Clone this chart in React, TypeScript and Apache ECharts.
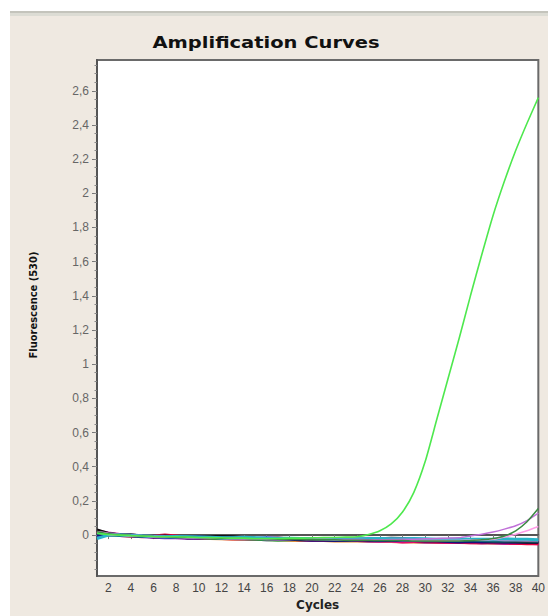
import React, { useEffect, useRef } from "react";
import * as echarts from "echarts";

const cycles = [1,2,3,4,5,6,7,8,9,10,11,12,13,14,15,16,17,18,19,20,21,22,23,24,25,26,27,28,29,30,31,32,33,34,35,36,37,38,39,40];
const xTickLabels = [2,4,6,8,10,12,14,16,18,20,22,24,26,28,30,32,34,36,38,40];
const yTickLabels = [0,0.2,0.4,0.6,0.8,1,1.2,1.4,1.6,1.8,2,2.2,2.4,2.6];

const greenAmp = [0.01,0.003,0.0,-0.003,-0.005,-0.008,-0.01,-0.01,-0.012,-0.014,-0.015,-0.016,-0.018,-0.018,-0.02,-0.02,-0.02,-0.018,-0.018,-0.016,-0.015,-0.014,-0.012,-0.01,0.003,0.025,0.065,0.135,0.25,0.43,0.67,0.91,1.15,1.40,1.64,1.87,2.07,2.25,2.41,2.56];
const darkGreenRise = [0.02,0.008,0.002,-0.002,-0.005,-0.008,-0.01,-0.012,-0.014,-0.015,-0.016,-0.018,-0.02,-0.02,-0.022,-0.022,-0.024,-0.025,-0.026,-0.026,-0.028,-0.028,-0.03,-0.03,-0.03,-0.032,-0.032,-0.032,-0.034,-0.034,-0.034,-0.035,-0.034,-0.032,-0.028,-0.02,-0.005,0.025,0.078,0.155];
const violetRise = [0.015,0.006,0.0,-0.003,-0.006,-0.009,-0.011,-0.013,-0.015,-0.016,-0.017,-0.018,-0.02,-0.021,-0.022,-0.022,-0.023,-0.024,-0.024,-0.025,-0.025,-0.026,-0.026,-0.026,-0.027,-0.027,-0.026,-0.025,-0.024,-0.022,-0.02,-0.018,-0.015,-0.005,0.005,0.018,0.035,0.055,0.085,0.128];
const pinkRise = [0.012,0.004,-0.001,-0.004,-0.007,-0.01,-0.012,-0.014,-0.015,-0.016,-0.018,-0.019,-0.02,-0.021,-0.022,-0.023,-0.024,-0.024,-0.025,-0.026,-0.026,-0.027,-0.028,-0.028,-0.029,-0.03,-0.03,-0.031,-0.031,-0.032,-0.032,-0.032,-0.031,-0.03,-0.028,-0.025,-0.012,0.005,0.025,0.05];

const blackBase = [0.03,0.01,0.0,0.0,-0.005,-0.01,-0.005,-0.01,-0.015,-0.012,-0.01,-0.008,-0.01,-0.015,-0.018,-0.02,-0.018,-0.02,-0.022,-0.025,-0.025,-0.022,-0.02,-0.022,-0.025,-0.022,-0.018,-0.02,-0.025,-0.028,-0.03,-0.03,-0.028,-0.03,-0.032,-0.035,-0.035,-0.038,-0.04,-0.04];
const redBase = [0.02,0.005,-0.002,-0.005,-0.01,-0.005,0.0,-0.005,-0.012,-0.015,-0.015,-0.018,-0.02,-0.02,-0.022,-0.02,-0.018,-0.022,-0.025,-0.028,-0.03,-0.03,-0.028,-0.03,-0.032,-0.03,-0.032,-0.035,-0.035,-0.038,-0.04,-0.04,-0.042,-0.04,-0.042,-0.045,-0.045,-0.048,-0.05,-0.05];
const navyBase = [0.0,0.005,0.002,-0.003,-0.008,-0.01,-0.01,-0.012,-0.015,-0.015,-0.012,-0.01,-0.012,-0.015,-0.02,-0.022,-0.025,-0.025,-0.028,-0.03,-0.03,-0.032,-0.03,-0.028,-0.03,-0.032,-0.03,-0.03,-0.032,-0.035,-0.035,-0.038,-0.04,-0.038,-0.04,-0.04,-0.042,-0.042,-0.04,-0.042];
const cyanBase = [-0.02,0.0,0.0,-0.002,-0.005,-0.008,-0.01,-0.008,-0.01,-0.012,-0.012,-0.015,-0.015,-0.012,-0.015,-0.018,-0.02,-0.018,-0.02,-0.02,-0.02,-0.022,-0.025,-0.022,-0.02,-0.02,-0.022,-0.022,-0.02,-0.022,-0.025,-0.025,-0.022,-0.025,-0.025,-0.025,-0.022,-0.025,-0.025,-0.028];
const magentaBase = [0.025,0.012,0.004,0.0,-0.005,-0.01,-0.012,-0.01,-0.012,-0.015,-0.018,-0.02,-0.022,-0.02,-0.022,-0.025,-0.025,-0.022,-0.025,-0.03,-0.032,-0.03,-0.028,-0.03,-0.032,-0.035,-0.035,-0.04,-0.038,-0.035,-0.038,-0.04,-0.042,-0.045,-0.045,-0.042,-0.045,-0.048,-0.048,-0.05];
const purpleBase = [0.01,0.002,-0.002,-0.005,-0.008,-0.012,-0.015,-0.015,-0.018,-0.02,-0.02,-0.018,-0.02,-0.022,-0.025,-0.028,-0.025,-0.025,-0.028,-0.03,-0.028,-0.028,-0.03,-0.032,-0.035,-0.035,-0.032,-0.035,-0.038,-0.04,-0.04,-0.042,-0.04,-0.042,-0.045,-0.045,-0.048,-0.045,-0.048,-0.048];
const tealBase = [0.015,0.008,0.002,0.0,-0.004,-0.006,-0.008,-0.01,-0.01,-0.012,-0.014,-0.016,-0.015,-0.018,-0.02,-0.02,-0.022,-0.02,-0.02,-0.022,-0.024,-0.026,-0.025,-0.024,-0.026,-0.028,-0.025,-0.026,-0.028,-0.03,-0.03,-0.032,-0.03,-0.03,-0.032,-0.034,-0.035,-0.034,-0.035,-0.036];
const blueBase = [-0.01,0.003,0.0,-0.003,-0.006,-0.008,-0.012,-0.014,-0.012,-0.01,-0.012,-0.016,-0.018,-0.02,-0.018,-0.016,-0.018,-0.022,-0.024,-0.022,-0.02,-0.022,-0.026,-0.028,-0.026,-0.024,-0.026,-0.03,-0.032,-0.03,-0.028,-0.03,-0.034,-0.036,-0.034,-0.032,-0.035,-0.038,-0.036,-0.035];
const lightPinkBase = [0.02,0.01,0.003,0.0,-0.003,-0.005,-0.008,-0.01,-0.012,-0.014,-0.016,-0.018,-0.02,-0.02,-0.022,-0.024,-0.026,-0.025,-0.022,-0.02,-0.02,-0.018,-0.016,-0.015,-0.016,-0.018,-0.02,-0.02,-0.022,-0.024,-0.025,-0.026,-0.025,-0.026,-0.028,-0.028,-0.03,-0.03,-0.032,-0.032];
const greenBase = [0.005,0.0,-0.002,-0.004,-0.006,-0.008,-0.01,-0.012,-0.014,-0.016,-0.018,-0.02,-0.02,-0.022,-0.025,-0.028,-0.03,-0.028,-0.025,-0.024,-0.026,-0.028,-0.03,-0.028,-0.026,-0.028,-0.03,-0.032,-0.03,-0.028,-0.03,-0.032,-0.034,-0.032,-0.03,-0.032,-0.034,-0.036,-0.035,-0.034];
const orangeBase = [0.0,0.002,-0.001,-0.004,-0.007,-0.01,-0.012,-0.014,-0.016,-0.018,-0.02,-0.022,-0.024,-0.025,-0.024,-0.026,-0.028,-0.03,-0.032,-0.03,-0.032,-0.034,-0.035,-0.034,-0.036,-0.038,-0.038,-0.04,-0.04,-0.042,-0.042,-0.044,-0.044,-0.045,-0.046,-0.046,-0.047,-0.048,-0.048,-0.048];

const seriesDefs: { name: string; values: number[]; color: string; width: number; smooth: number }[] = [
  { name: "orange", values: orangeBase, color: "#e07a20", width: 3, smooth: 0 },
  { name: "purple", values: purpleBase, color: "#8a10c0", width: 3, smooth: 0 },
  { name: "magenta", values: magentaBase, color: "#e0109a", width: 3, smooth: 0 },
  { name: "red", values: redBase, color: "#e8003c", width: 3, smooth: 0 },
  { name: "greenBase", values: greenBase, color: "#30a040", width: 3, smooth: 0 },
  { name: "blue", values: blueBase, color: "#3050d8", width: 3, smooth: 0 },
  { name: "navy", values: navyBase, color: "#14147a", width: 3, smooth: 0 },
  { name: "black", values: blackBase, color: "#101010", width: 3, smooth: 0 },
  { name: "teal", values: tealBase, color: "#1a6a7a", width: 3, smooth: 0 },
  { name: "lightPink", values: lightPinkBase, color: "#f080d0", width: 2, smooth: 0 },
  { name: "cyan", values: cyanBase, color: "#28b4c8", width: 3, smooth: 0 },
  { name: "pinkRise", values: pinkRise, color: "#ff9ce8", width: 1.5, smooth: 0.2 },
  { name: "violetRise", values: violetRise, color: "#c070d8", width: 1.5, smooth: 0.2 },
  { name: "darkGreenRise", values: darkGreenRise, color: "#3c8a44", width: 1.5, smooth: 0.2 },
  { name: "amplified", values: greenAmp, color: "#4ee84e", width: 1.6, smooth: 0.2 },
];

const minorTicks: number[] = [];
for (let i = -4; i <= 55; i++) minorTicks.push(Math.round(i * 5) / 100);

const fmt = (v: number) => String(Math.round(v * 10) / 10).replace(".", ",");

export default function App() {
  const ref = useRef<HTMLDivElement>(null);
  useEffect(() => {
    if (!ref.current) return;
    const chart = echarts.init(ref.current, undefined, { renderer: "svg" });
    chart.setOption({
      animation: false,
      backgroundColor: "#ffffff",
      graphic: [
        { type: "rect", z: -10, shape: { x: 10, y: 11, width: 538, height: 2 }, style: { fill: "#c4c4bc" } },
        { type: "rect", z: -10, shape: { x: 10, y: 13, width: 538, height: 3 }, style: { fill: "#dcdcd4" } },
        { type: "rect", z: -10, shape: { x: 10, y: 16, width: 538, height: 600 }, style: { fill: "#efe9e1" } },
        {
          type: "text",
          x: 266,
          y: 43,
          scaleX: 1.3,
          style: {
            text: "Amplification Curves",
            font: "bold 15px 'DejaVu Sans'",
            fill: "#111111",
            align: "center",
            verticalAlign: "middle",
          },
        },
        {
          type: "text",
          x: 33,
          y: 305,
          rotation: Math.PI / 2,
          style: {
            text: "Fluorescence (530)",
            font: "bold 11px 'DejaVu Sans Condensed'",
            fill: "#111111",
            align: "center",
            verticalAlign: "middle",
          },
        },
      ],
      grid: {
        left: 97,
        right: 8,
        top: 60,
        bottom: 29,
        show: true,
        backgroundColor: "#ffffff",
        borderColor: "#6a6a6a",
        borderWidth: 2,
      },
      xAxis: {
        type: "value",
        min: 1,
        max: 40,
        name: "Cycles",
        nameLocation: "middle",
        nameGap: 19,
        nameTextStyle: { fontFamily: "DejaVu Sans", fontWeight: "bold", fontSize: 12, color: "#222" },
        axisLine: { show: true, lineStyle: { color: "#555", width: 2 } },
        axisTick: { show: true, length: 4, lineStyle: { color: "#777" }, customValues: xTickLabels },
        axisLabel: {
          customValues: xTickLabels,
          fontFamily: "Liberation Sans",
          fontSize: 12,
          color: "#444",
          margin: 6,
        },
        splitLine: { show: false },
      },
      yAxis: [
        {
          type: "value",
          min: -0.24,
          max: 2.78,
          axisLine: { show: true, lineStyle: { color: "#555", width: 2 } },
          axisTick: { show: true, length: 5, lineStyle: { color: "#777" }, customValues: yTickLabels },
          axisLabel: {
            customValues: yTickLabels,
            formatter: (v: number) => fmt(v),
            fontFamily: "Liberation Sans",
            fontSize: 12,
            color: "#666",
            margin: 8,
          },
          splitLine: { show: false },
        },
        {
          type: "value",
          min: -0.24,
          max: 2.78,
          position: "left",
          axisLine: { show: false },
          axisTick: { show: true, length: 2.5, lineStyle: { color: "#888" }, customValues: minorTicks },
          axisLabel: { show: false },
          splitLine: { show: false },
        },
      ],
      series: seriesDefs.map((s) => ({
        type: "line",
        name: s.name,
        yAxisIndex: 0,
        data: cycles.map((c, i) => [c, s.values[i]]),
        showSymbol: false,
        smooth: s.smooth > 0 ? s.smooth : false,
        lineStyle: { color: s.color, width: s.width },
        itemStyle: { color: s.color },
        clip: true,
      })),
    });
    return () => chart.dispose();
  }, []);
  return <div ref={ref} style={{ position: "fixed", left: 0, top: 0, width: 548, height: 616 }} />;
}
